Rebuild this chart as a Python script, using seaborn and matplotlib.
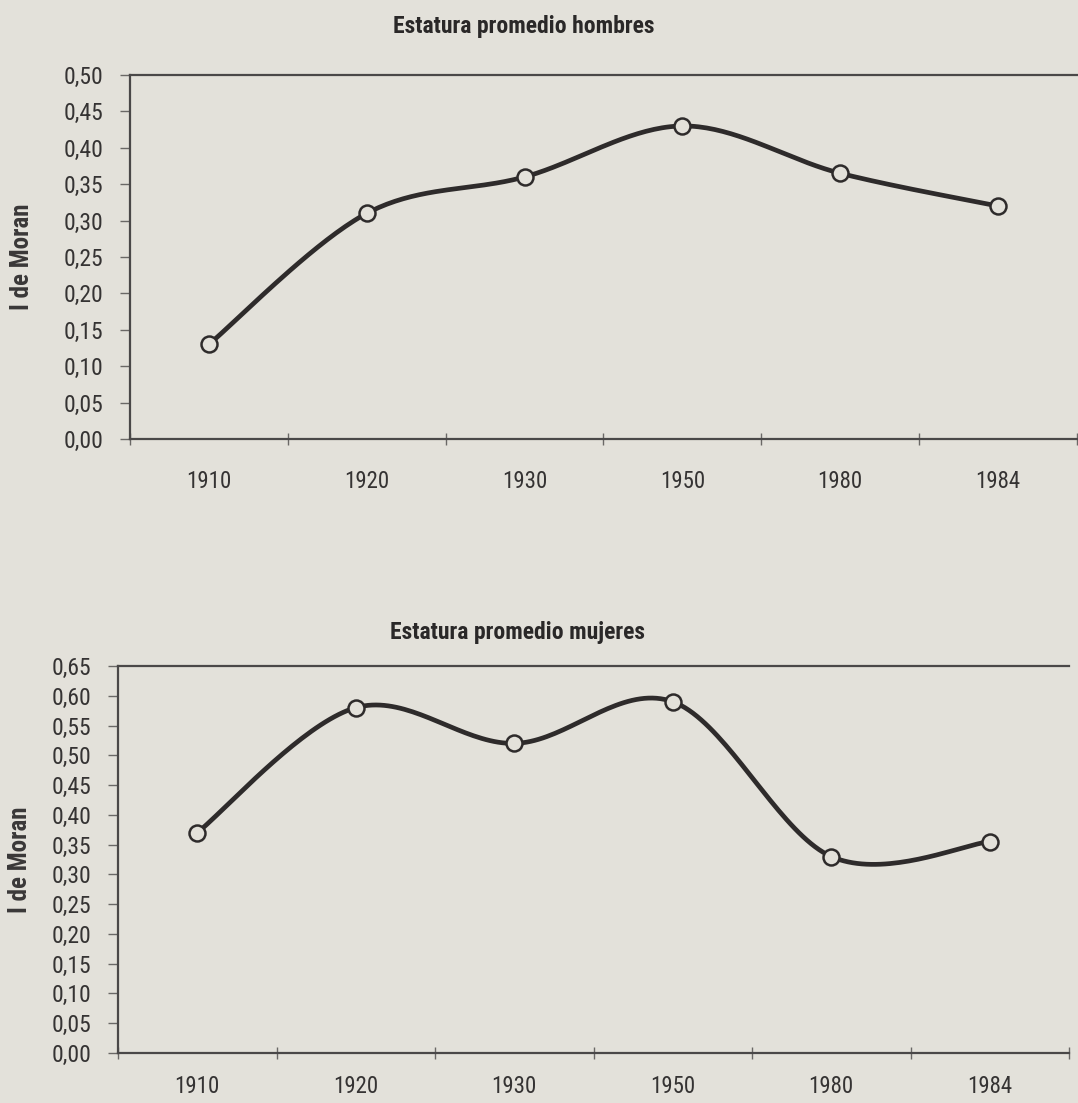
import numpy as np
import pandas as pd
import matplotlib
matplotlib.use("Agg")
import matplotlib.pyplot as plt
import seaborn as sns
from matplotlib.ticker import FixedLocator, FuncFormatter
from matplotlib import font_manager as fm

# ---- data ----
years = ["1910", "1920", "1930", "1950", "1980", "1984"]
moran_hombres = [0.13, 0.31, 0.36, 0.43, 0.365, 0.32]
moran_mujeres = [0.37, 0.58, 0.52, 0.59, 0.33, 0.355]
title_hombres = "Estatura promedio hombres"
title_mujeres = "Estatura promedio mujeres"
ylabel = "I de Moran"

BG = "#e3e1da"
INK = "#2e2b2b"
AX = "#4a4848"

names = {f.name for f in fm.fontManager.ttflist}
FAM = [n for n in ["Liberation Sans Narrow", "Roboto Condensed", "DejaVu Sans Condensed", "Roboto"] if n in names] + ["DejaVu Sans"]

sns.set_theme(style="white")
plt.rcParams["font.family"] = FAM
plt.rcParams["font.stretch"] = "condensed"
plt.rcParams["axes.facecolor"] = BG
plt.rcParams["figure.facecolor"] = BG


def smooth(xs, ys, n=40):
    """Excel-style smoothed line (cubic Bezier, tension 1/6) through the data points."""
    P = np.column_stack([xs, ys]).astype(float)
    ext = np.vstack([P[0], P, P[-1]])
    out = []
    t = np.linspace(0, 1, n)[:, None]
    for i in range(len(P) - 1):
        p0, p3 = ext[i + 1], ext[i + 2]
        c1 = p0 + (ext[i + 2] - ext[i]) / 6.0
        c2 = p3 - (ext[i + 3] - ext[i + 1]) / 6.0
        seg = ((1 - t) ** 3) * p0 + 3 * ((1 - t) ** 2) * t * c1 + 3 * (1 - t) * t ** 2 * c2 + t ** 3 * p3
        out.append(seg if i == 0 else seg[1:])
    out = np.vstack(out)
    return out[:, 0], out[:, 1]


fig = plt.figure(figsize=(10.78, 11.03), dpi=100)

W, H = 1078, 1103
specs = [
    # left, right, top, bottom (px), values, ymax, title, title x, title y, xlabel pad, ylabel anchor x
    (130, 1077, 75, 439, moran_hombres, 0.50, title_hombres, 524, 26, 22, 34),
    (118, 1069, 666, 1053, moran_mujeres, 0.65, title_mujeres, 517, 633, 16, 32),
]

for left, right, top, bottom, vals, ymax, title, tx, ty, xpad, ylx in specs:
    ax = fig.add_axes([left / W, 1 - bottom / H, (right - left) / W, (bottom - top) / H])
    xi = np.arange(len(years))
    sx, sy = smooth(xi, vals)
    sns.lineplot(x=sx, y=sy, ax=ax, color=INK, linewidth=3.4, sort=False,
                 estimator=None, zorder=3)
    df = pd.DataFrame({"x": xi, "y": vals})
    sns.lineplot(data=df, x="x", y="y", ax=ax, linestyle="", marker="o",
                 markersize=11.5, markerfacecolor=BG, markeredgecolor=INK,
                 markeredgewidth=1.8, color=INK, zorder=4)

    ax.set_xlim(-0.5, len(years) - 0.5)
    ax.set_ylim(0, ymax)
    ax.set_xlabel("")
    ax.set_ylabel(ylabel, fontsize=18, fontweight="bold", color="#3a3838")
    ax.yaxis.set_label_coords((ylx - left) / (right - left), 0.5)

    ax.set_xticks(xi)
    ax.set_xticklabels(years)
    ax.xaxis.set_minor_locator(FixedLocator(np.arange(-0.5, len(years), 1.0)))
    ax.tick_params(axis="x", which="major", length=0, pad=xpad, labelsize=16.5,
                   labelcolor="#353333")
    ax.tick_params(axis="x", which="minor", direction="inout", length=8,
                   width=1.0, color="#6a6866", bottom=True)

    yt = np.round(np.arange(0, ymax + 0.001, 0.05), 2)
    ax.set_yticks(yt)
    ax.yaxis.set_major_formatter(FuncFormatter(lambda v, p: f"{v:.2f}".replace(".", ",")))
    ax.tick_params(axis="y", which="major", direction="out", length=7, width=1.0,
                   color="#6a6866", pad=12, labelsize=17, labelcolor="#353333", left=True)

    for s in ["top", "bottom", "left"]:
        ax.spines[s].set_visible(True)
        ax.spines[s].set_color(AX)
        ax.spines[s].set_linewidth(1.6)
    ax.spines["right"].set_visible(False)
    ax.grid(False)

    fig.text(tx / W, 1 - ty / H, title, ha="center", va="center", fontsize=17,
             fontweight="bold", color="#2a2828")

fig.savefig("out.png", dpi=100, facecolor=BG)
